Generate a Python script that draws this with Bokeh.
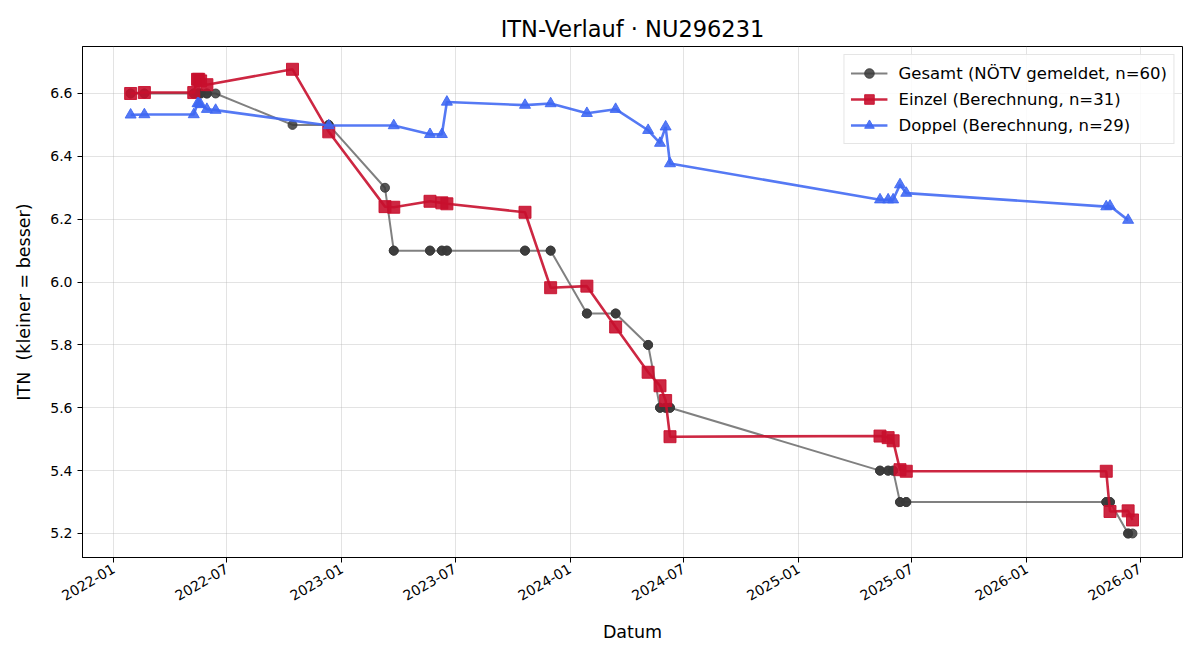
from datetime import datetime
from math import pi
from bokeh.plotting import figure
from bokeh.models import Range1d, FixedTicker, DatetimeTickFormatter, Legend, LegendItem, NumeralTickFormatter
from bokeh.embed import file_html
from bokeh.resources import INLINE

# ---------------- data ----------------
einzel_dates = ["2022-01-28", "2022-02-19", "2022-05-09", "2022-05-15", "2022-05-17", "2022-05-20",
                "2022-05-30", "2022-10-14", "2022-12-11", "2023-03-11", "2023-03-25", "2023-05-22",
                "2023-06-10", "2023-06-18", "2023-10-21", "2023-12-01", "2024-01-28", "2024-03-14",
                "2024-05-05", "2024-05-24", "2024-06-02", "2024-06-09", "2025-05-11", "2025-05-24",
                "2025-06-01", "2025-06-12", "2025-06-22", "2026-05-08", "2026-05-14", "2026-06-12",
                "2026-06-19"]
einzel_values = [6.600, 6.603, 6.603, 6.645, 6.645, 6.640,
                 6.628, 6.677, 6.478, 6.240, 6.238, 6.257,
                 6.252, 6.249, 6.222, 5.982, 5.987, 5.857,
                 5.713, 5.670, 5.623, 5.508, 5.510, 5.505,
                 5.495, 5.403, 5.398, 5.398, 5.270, 5.272,
                 5.243]

doppel_dates = ["2022-01-28", "2022-02-19", "2022-05-09", "2022-05-15", "2022-05-17", "2022-05-20",
                "2022-05-30", "2022-06-13", "2022-12-11", "2023-03-25", "2023-05-22", "2023-06-10",
                "2023-06-18", "2023-10-21", "2023-12-01", "2024-01-28", "2024-03-14", "2024-05-05",
                "2024-05-24", "2024-06-02", "2024-06-09", "2025-05-11", "2025-05-24", "2025-06-01",
                "2025-06-12", "2025-06-22", "2026-05-08", "2026-05-14", "2026-06-12"]
doppel_values = [6.532, 6.533, 6.533, 6.568, 6.568, 6.565,
                 6.550, 6.547, 6.498, 6.498, 6.470, 6.470,
                 6.573, 6.563, 6.568, 6.537, 6.550, 6.483,
                 6.442, 6.494, 6.377, 6.262, 6.262, 6.262,
                 6.310, 6.283, 6.240, 6.242, 6.197]

# reported (Gesamt) ITN per match date
gesamt_step_dates = ["2022-01-28", "2022-02-19", "2022-05-09", "2022-05-15", "2022-05-17", "2022-05-20",
                     "2022-05-30", "2022-06-13", "2022-10-14", "2022-12-11", "2023-03-11", "2023-03-25",
                     "2023-05-22", "2023-06-10", "2023-06-18", "2023-10-21", "2023-12-01", "2024-01-28",
                     "2024-03-14", "2024-05-05", "2024-05-24", "2024-06-02", "2024-06-09", "2025-05-11",
                     "2025-05-24", "2025-06-01", "2025-06-12", "2025-06-22", "2026-05-08", "2026-05-14",
                     "2026-06-12", "2026-06-19"]
gesamt_step_values = [6.6, 6.6, 6.6, 6.6, 6.6, 6.6,
                      6.6, 6.6, 6.5, 6.5, 6.3, 6.1,
                      6.1, 6.1, 6.1, 6.1, 6.1, 5.9,
                      5.9, 5.8, 5.6, 5.6, 5.6, 5.4,
                      5.4, 5.4, 5.3, 5.3, 5.3, 5.3,
                      5.2, 5.2]

y_ticks = [5.2, 5.4, 5.6, 5.8, 6.0, 6.2, 6.4, 6.6]
x_tick_dates = ["2022-01-01", "2022-07-01", "2023-01-01", "2023-07-01", "2024-01-01",
                "2024-07-01", "2025-01-01", "2025-07-01", "2026-01-01", "2026-07-01"]

labels = ["Gesamt (NÖTV gemeldet, n=60)", "Einzel (Berechnung, n=31)", "Doppel (Berechnung, n=29)"]


def dt(s):
    return datetime.strptime(s, "%Y-%m-%d")


lookup = dict(zip(gesamt_step_dates, gesamt_step_values))
gesamt_dates = sorted(einzel_dates + doppel_dates)
gesamt_values = [lookup[d] for d in gesamt_dates]

FONT = "DejaVu Sans"

p = figure(width=1200, height=660, output_backend="svg", toolbar_location=None,
           x_axis_type="datetime",
           x_range=Range1d(dt("2021-11-12"), dt("2026-09-07")),
           y_range=Range1d(5.1236, 6.7495),
           min_border_left=82, min_border_right=18, min_border_top=46, min_border_bottom=103,
           title="ITN-Verlauf · NU296231")

p.title.align = "center"
p.title.text_font = FONT
p.title.text_font_size = "22.5px"
p.title.text_font_style = "normal"
p.title.text_color = "black"
p.title.offset = 0

p.outline_line_color = "black"
p.outline_line_width = 1
p.background_fill_color = "white"
p.border_fill_color = "white"

epoch = datetime(1970, 1, 1)
xt = [(dt(s) - epoch).total_seconds() * 1000 for s in x_tick_dates]
p.xaxis.ticker = FixedTicker(ticks=xt)
p.xaxis.formatter = DatetimeTickFormatter(days="%Y-%m", months="%Y-%m", years="%Y-%m")
p.xaxis.major_label_orientation = pi / 6
p.yaxis.ticker = FixedTicker(ticks=y_ticks)
p.yaxis.formatter = NumeralTickFormatter(format="0.0")

for ax in (p.xaxis, p.yaxis):
    ax.major_label_text_font = FONT
    ax.major_label_text_font_size = "14px"
    ax.major_label_text_color = "black"
    ax.axis_label_text_font = FONT
    ax.axis_label_text_font_size = "17.5px"
    ax.axis_label_text_font_style = "normal"
    ax.axis_label_text_color = "black"
    ax.axis_line_color = "black"
    ax.major_tick_line_color = "black"
    ax.major_tick_out = 5
    ax.major_tick_in = 0
    ax.minor_tick_line_color = None

p.xaxis.axis_label = "Datum"
p.yaxis.axis_label = "ITN\u00a0 (kleiner = besser)"
p.xaxis.axis_label_standoff = 14
p.yaxis.axis_label_standoff = 13

p.grid.grid_line_color = "#b0b0b0"
p.grid.grid_line_alpha = 0.35
p.grid.grid_line_width = 1

gx = [dt(d) for d in gesamt_dates]
ex = [dt(d) for d in einzel_dates]
dx = [dt(d) for d in doppel_dates]

gl = p.line(gx, gesamt_values, line_color="#555555", line_alpha=0.75, line_width=2)
gs = p.scatter(gx, gesamt_values, marker="circle", size=9, fill_color="#3a3a3a", line_color="#3a3a3a",
               fill_alpha=0.85, line_alpha=0.85)

el = p.line(ex, einzel_values, line_color="#c8102e", line_alpha=0.9, line_width=2.6)
es = p.scatter(ex, einzel_values, marker="square", size=12, fill_color="#c8102e", line_color="#c8102e",
               fill_alpha=0.9, line_alpha=0.9)

dl = p.line(dx, doppel_values, line_color="#3d66f2", line_alpha=0.88, line_width=2.6)
ds = p.scatter(dx, doppel_values, marker="triangle", size=11, fill_color="#3d66f2", line_color="#3d66f2",
               fill_alpha=0.88, line_alpha=0.88)

legend = Legend(items=[LegendItem(label=labels[0], renderers=[gl, gs]),
                       LegendItem(label=labels[1], renderers=[el, es]),
                       LegendItem(label=labels[2], renderers=[dl, ds])],
                location="top_right")
legend.label_text_font = FONT
legend.label_text_font_size = "16.5px"
legend.label_text_color = "black"
legend.border_line_color = "#cccccc"
legend.border_line_width = 1
legend.background_fill_alpha = 0.85
legend.glyph_width = 37
legend.label_standoff = 11
legend.spacing = 2
legend.padding = 6
legend.margin = 8
legend.label_height = 24
legend.glyph_height = 24
p.add_layout(legend)

open("out.html", "w").write(file_html(p, INLINE))
